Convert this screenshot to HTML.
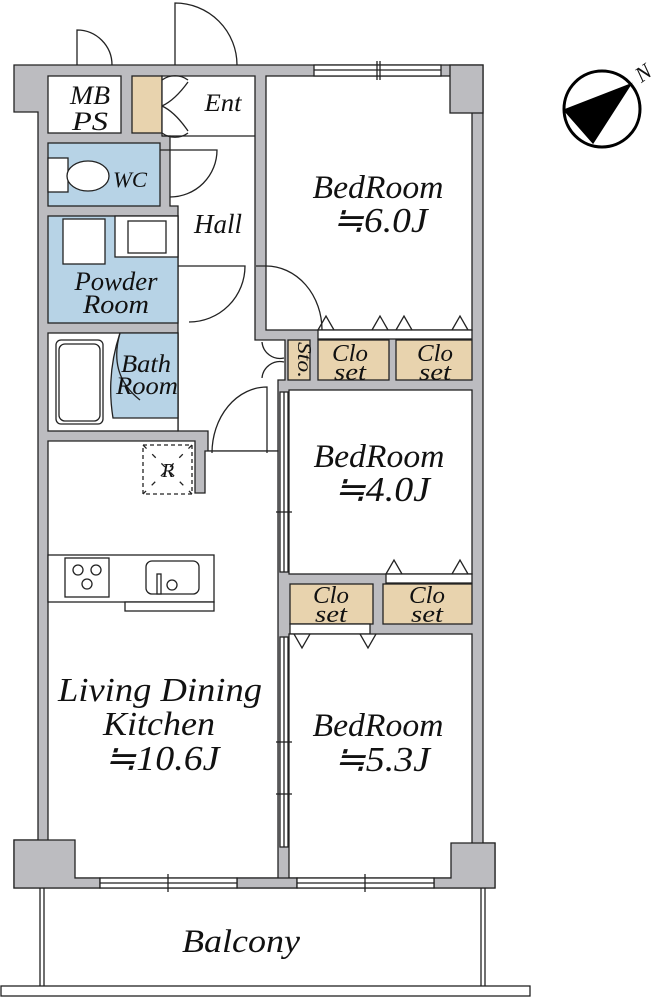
<!DOCTYPE html>
<html><head><meta charset="utf-8"><style>
html,body{margin:0;padding:0;background:#fff;}
svg{display:block;}
text{font-family:"Liberation Serif",serif;font-style:italic;fill:#111;text-anchor:middle;}
</style></head><body>
<svg width="661" height="999" viewBox="0 0 661 999" xmlns="http://www.w3.org/2000/svg">
<g stroke="#222" stroke-width="1.3">
<polygon points="14,65 483,65 483,843 495,843 495,888 14,888 14,840 38,840 38,112 14,112" fill="#bcbcc0"/>
<rect x="48" y="76" width="73" height="57" fill="#fff"/>
<rect x="132" y="76" width="30" height="57" fill="#e8d3ae"/>
<polygon points="162,76 255,76 255,340 285,340 285,380 278,380 278,451 208,451 208,431 178,431 178,206 170,206 170,136 162,136" fill="#fff"/>
<line x1="162" y1="136" x2="255" y2="136"/>
<rect x="48" y="143" width="112" height="63" fill="#b7d3e6"/>
<rect x="48" y="216" width="130" height="107" fill="#b7d3e6"/>
<rect x="115" y="216" width="63" height="41" fill="#fff"/>
<rect x="48" y="333" width="130" height="98" fill="#fff"/>
<path d="M120,333 L178,333 L178,418 L113,418 Q106,375 120,333 Z" fill="#b7d3e6"/>
<polygon points="48,441 195,441 195,493 205,493 205,451 278,451 278,878 48,878" fill="#fff"/>
<rect x="266" y="76" width="206" height="254" fill="#fff"/>
<rect x="318" y="330" width="154" height="9" fill="#fff"/>
<rect x="288" y="340" width="22" height="40" fill="#e8d3ae"/>
<rect x="318" y="340" width="71" height="40" fill="#e8d3ae"/>
<rect x="396" y="340" width="76" height="40" fill="#e8d3ae"/>
<rect x="289" y="390" width="183" height="184" fill="#fff"/>
<rect x="386" y="574" width="86" height="9" fill="#fff"/>
<rect x="290" y="584" width="83" height="40" fill="#e8d3ae"/>
<rect x="383" y="584" width="89" height="40" fill="#e8d3ae"/>
<rect x="290" y="624" width="80" height="10" fill="#fff"/>
<rect x="289" y="634" width="183" height="244" fill="#fff"/>
<polygon points="14,840 75,840 75,878 100,878 100,888 14,888" fill="#bcbcc0"/>
<polygon points="451,843 495,843 495,888 434,888 434,878 451,878" fill="#bcbcc0"/>
<rect x="450" y="65" width="33" height="48" fill="#bcbcc0"/>
<rect x="237" y="878" width="60" height="10" fill="#bcbcc0"/>
<rect x="314" y="65" width="127" height="11" fill="#fff"/>
<line x1="314" y1="70" x2="441" y2="70"/><line x1="377" y1="61" x2="377" y2="80"/><line x1="380" y1="61" x2="380" y2="80"/>
<rect x="100" y="878" width="137" height="10" fill="#fff"/>
<line x1="100" y1="883" x2="237" y2="883"/><line x1="168" y1="874" x2="168" y2="892"/>
<rect x="297" y="878" width="137" height="10" fill="#fff"/>
<line x1="297" y1="883" x2="434" y2="883"/><line x1="365" y1="874" x2="365" y2="892"/>
<rect x="280" y="392" width="8" height="180" fill="#fff"/>
<line x1="284" y1="392" x2="284" y2="572"/>
<line x1="276" y1="512" x2="292" y2="512"/>
<rect x="280" y="637" width="8" height="210" fill="#fff"/>
<line x1="284" y1="637" x2="284" y2="847"/>
<line x1="276" y1="742" x2="292" y2="742"/><line x1="276" y1="794" x2="292" y2="794"/>
<rect x="48" y="555" width="166" height="47" fill="#fff"/>
<rect x="125" y="602" width="89" height="9" fill="#fff"/>
<rect x="65" y="558" width="44" height="39" fill="#fff"/>
<circle cx="78" cy="570" r="5" fill="none"/><circle cx="96" cy="570" r="5" fill="none"/><circle cx="87" cy="584" r="5" fill="none"/>
<rect x="146" y="561" width="53" height="33" rx="6" fill="#fff"/>
<rect x="157" y="574" width="4" height="20" fill="#fff"/><circle cx="172" cy="585" r="5" fill="#fff"/>
<rect x="143" y="445" width="49" height="49" fill="none" stroke-dasharray="4,3"/>
<line x1="143" y1="445" x2="192" y2="494" stroke-dasharray="5,8"/><line x1="192" y1="445" x2="143" y2="494" stroke-dasharray="5,8"/>
<rect x="48" y="158" width="20" height="34" fill="#fff"/>
<ellipse cx="88" cy="176" rx="21" ry="15" fill="#fff"/>
<rect x="63" y="219" width="42" height="45" fill="#fff"/>
<rect x="128" y="221" width="38" height="32" fill="#fff"/>
<rect x="56" y="340" width="47" height="84" rx="5" fill="#fff"/>
<rect x="59" y="344" width="41" height="77" rx="6" fill="none"/>
<g fill="none">
<path d="M77,65 L77,30 A35,35 0 0 1 112,65"/>
<path d="M175,65 L175,3 A62,62 0 0 1 237,65"/>
<path d="M162,80 A22,22 0 0 1 188,80 M162,133 A22,22 0 0 0 188,133 M162,106 Q175,100 188,82 M162,106 Q175,112 188,131"/>
<path d="M160,150 L217,150 A47,47 0 0 1 170,197"/>
<path d="M178,266 L245,266 A56,56 0 0 1 189,322"/>
<path d="M256,266 L266,266 A56,64 0 0 1 322,330"/>
<path d="M267,453 L267,387 A55,66 0 0 0 212,453"/>
<path d="M262,342 A18,18 0 0 0 284,358 M262,378 A18,18 0 0 1 284,362"/>
<path d="M318,330 L326,316 L334,330 M372,330 L380,316 L388,330 M396,330 L404,316 L412,330 M452,330 L460,316 L468,330"/>
<path d="M386,574 L394,560 L402,574 M452,574 L460,560 L468,574"/>
<path d="M294,634 L302,648 L310,634 M360,634 L368,648 L376,634"/>
<path d="M120,333 Q108,375 140,400"/>
</g>
<line x1="40" y1="888" x2="40" y2="986"/><line x1="44" y1="888" x2="44" y2="986"/>
<line x1="481" y1="888" x2="481" y2="986"/><line x1="485" y1="888" x2="485" y2="986"/>
<rect x="1" y="986" width="529" height="10" fill="#fff"/>
<circle cx="602" cy="109" r="38" fill="#fff" stroke="#000" stroke-width="3"/>
<polygon points="564,110 631,84 593,143" fill="#000" stroke="#000"/>
</g>
<text x="644" y="80" font-size="22" transform="rotate(-35 644 74)">N</text>
<text x="90" y="104" font-size="26" textLength="40" lengthAdjust="spacingAndGlyphs">MB</text>
<text x="90" y="130" font-size="26" textLength="36" lengthAdjust="spacingAndGlyphs">PS</text>
<text x="223" y="111" font-size="25" textLength="37" lengthAdjust="spacingAndGlyphs">Ent</text>
<text x="130" y="187" font-size="22" textLength="34" lengthAdjust="spacingAndGlyphs">WC</text>
<text x="218" y="233" font-size="27" textLength="48" lengthAdjust="spacingAndGlyphs">Hall</text>
<text x="116" y="290" font-size="26" textLength="83" lengthAdjust="spacingAndGlyphs">Powder</text>
<text x="116" y="313" font-size="26" textLength="66" lengthAdjust="spacingAndGlyphs">Room</text>
<text x="146" y="372" font-size="25" textLength="50" lengthAdjust="spacingAndGlyphs">Bath</text>
<text x="147" y="394" font-size="25" textLength="62" lengthAdjust="spacingAndGlyphs">Room</text>
<text x="168" y="477" font-size="20">R</text>
<text x="378" y="198" font-size="33" textLength="131" lengthAdjust="spacingAndGlyphs">BedRoom</text>
<text x="380" y="232" font-size="35" textLength="95" lengthAdjust="spacingAndGlyphs">≒6.0J</text>
<text x="298" y="360" font-size="20" transform="rotate(90 298 360)" textLength="36" lengthAdjust="spacingAndGlyphs">Sto.</text>
<text x="350" y="361" font-size="24" textLength="36" lengthAdjust="spacingAndGlyphs">Clo</text><text x="350" y="380" font-size="24" textLength="32" lengthAdjust="spacingAndGlyphs">set</text>
<text x="435" y="361" font-size="24" textLength="36" lengthAdjust="spacingAndGlyphs">Clo</text><text x="435" y="380" font-size="24" textLength="32" lengthAdjust="spacingAndGlyphs">set</text>
<text x="379" y="467" font-size="33" textLength="131" lengthAdjust="spacingAndGlyphs">BedRoom</text>
<text x="382" y="501" font-size="35" textLength="96" lengthAdjust="spacingAndGlyphs">≒4.0J</text>
<text x="331" y="603" font-size="24" textLength="36" lengthAdjust="spacingAndGlyphs">Clo</text><text x="331" y="622" font-size="24" textLength="32" lengthAdjust="spacingAndGlyphs">set</text>
<text x="427" y="603" font-size="24" textLength="36" lengthAdjust="spacingAndGlyphs">Clo</text><text x="427" y="622" font-size="24" textLength="32" lengthAdjust="spacingAndGlyphs">set</text>
<text x="160" y="701" font-size="34" textLength="204" lengthAdjust="spacingAndGlyphs">Living Dining</text>
<text x="159" y="735" font-size="34" textLength="112" lengthAdjust="spacingAndGlyphs">Kitchen</text>
<text x="162" y="770" font-size="35" textLength="115" lengthAdjust="spacingAndGlyphs">≒10.6J</text>
<text x="378" y="736" font-size="33" textLength="131" lengthAdjust="spacingAndGlyphs">BedRoom</text>
<text x="382" y="771" font-size="35" textLength="96" lengthAdjust="spacingAndGlyphs">≒5.3J</text>
<text x="241" y="952" font-size="33" textLength="118" lengthAdjust="spacingAndGlyphs">Balcony</text>
</svg>
</body></html>
